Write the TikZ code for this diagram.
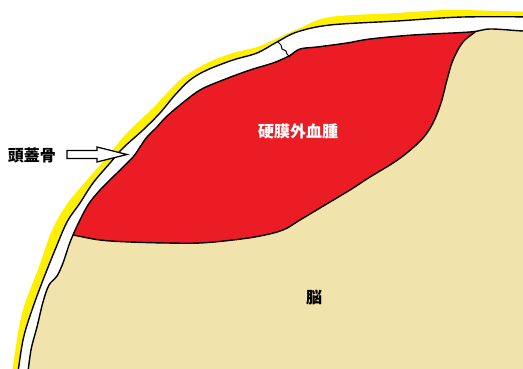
\documentclass[tikz,border=0pt]{standalone}
\usepackage{fontspec}
\newfontfamily\jp{Noto Sans CJK JP}
\definecolor{scalpyellow}{RGB}{255,240,0}
\definecolor{bloodred}{RGB}{236,28,36}
\definecolor{braintan}{RGB}{240,228,172}
\tikzset{
  outline/.style={draw=black, line width=1.4pt, line join=round, line cap=round},
  label/.style={font={\jp\bfseries\fontsize{16}{18}\selectfont}, inner sep=0pt},
  hollowarrow/.style={draw=black, fill=white, line width=1.3pt, line join=miter},
}
\begin{document}
\begin{tikzpicture}[x=1pt, y=-1pt]
\useasboundingbox (0,0) rectangle (523,369);
\fill[white] (0,0) rectangle (523,369);

% scalp
\fill[scalpyellow] plot[smooth, tension=0.55] coordinates {
  (540,12) (500,11) (447,10) (397,13) (330,17) (300,28) (280,37) (257,47)
  (233,53) (207,63) (180,80) (153,108) (127,133) (107,157) (87,180) (70,200)
  (60,215) (50,235) (40,264) (30,290) (23,310) (18,333) (11,380)}
  -- (540,380) -- cycle;

% skull (outer table)
\filldraw[fill=white, outline] plot[smooth, tension=0.55] coordinates {
  (540,17) (463,17) (397,21) (330,25) (297,32) (277,42) (257,53) (233,60)
  (207,70) (190,80) (175,95) (160,113) (143,130) (123,148) (110,163) (93,183)
  (80,203) (67,222) (55,250) (43,280) (32,310) (23,340) (17,380)}
  -- (540,380) -- cycle;

% brain and haematoma inside the inner table
\begin{scope}
  \clip plot[smooth, tension=0.55] coordinates {
    (540,31) (523,31) (490,29) (470,32) (413,35) (370,39) (347,43) (317,47)
    (300,49) (289,56) (273,63) (250,70) (223,80) (200,90) (180,105) (165,118)
    (157,127) (147,137) (140,147) (133,157) (117,173) (100,190) (88,205)
    (78,224) (73,235) (69,245) (63,263) (57,276) (49,285) (43,302) (37,327)
    (31,350) (27,380)}
    -- (540,380) -- cycle;
  \fill[braintan] (0,0) rectangle (540,380);
  \fill[bloodred] (482,-5) -- plot[smooth, tension=0.6] coordinates {
    (478,22) (477,30) (463,42) (453,60) (447,80) (441,103) (433,123) (423,138)
    (408,152) (393,163) (370,177) (350,190) (325,205) (300,220) (283,230)
    (260,236) (233,240) (200,243) (167,243) (130,242) (100,240) (73,235) (55,232)}
    -- (-5,231) -- (-5,-5) -- cycle;
  \draw[outline] plot[smooth, tension=0.6] coordinates {
    (478,22) (477,30) (463,42) (453,60) (447,80) (441,103) (433,123) (423,138)
    (408,152) (393,163) (370,177) (350,190) (325,205) (300,220) (283,230)
    (260,236) (233,240) (200,243) (167,243) (130,242) (100,240) (73,235) (55,232)};
\end{scope}

% inner table of the skull
\draw[outline] plot[smooth, tension=0.55] coordinates {
  (540,31) (523,31) (490,29) (470,32) (413,35) (370,39) (347,43) (317,47)
  (300,49) (289,56) (273,63) (250,70) (223,80) (200,90) (180,105) (165,118)
  (157,127) (147,137) (140,147) (133,157) (117,173) (100,190) (88,205)
  (78,224) (73,235) (69,245) (63,263) (57,276) (49,285) (43,302) (37,327)
  (31,350) (27,380)};

% fracture line
\draw[outline, line width=1pt] (278,42) -- (281,45) -- (282,49) -- (286,51)
  -- (287,54) -- (290,57);

% labels
\node[label] (skull) at (32,155) {頭蓋骨};
\node[label, text=white] (edh) at (298,131) {硬膜外血腫};
\node[label] (brain) at (314,298) {脳};

% pointer to the skull
\coordinate (tip) at (127,154.5);
\draw[hollowarrow] (tip) -- ++(-30,-7.5) -- ++(0,3.5) -- ++(-30,0)
  -- ++(0,8) -- ++(30,0) -- ++(0,3.5) -- cycle;
\end{tikzpicture}
\end{document}
